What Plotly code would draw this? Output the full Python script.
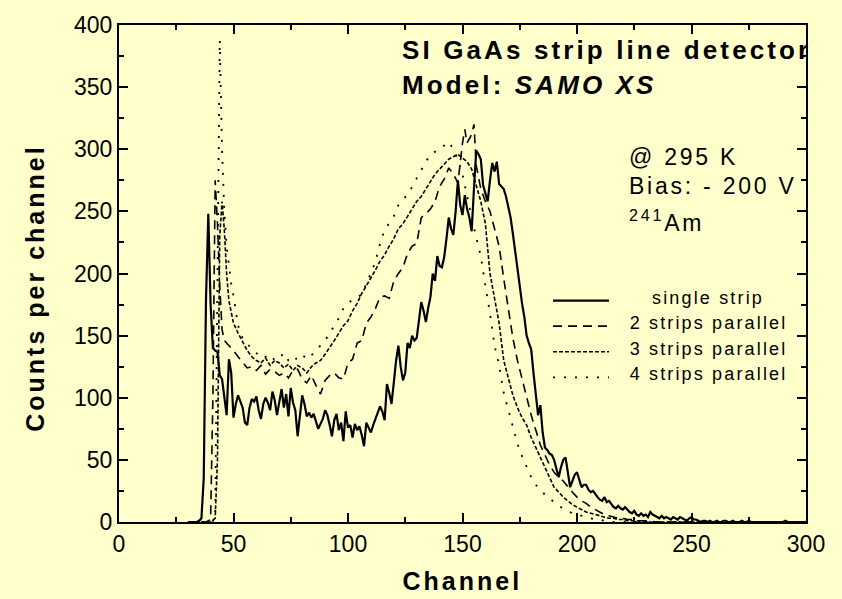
import plotly.graph_objects as go

# ---------------- data ----------------
single_ch = list(range(30, 301))
single_counts = [
    0, 0, 0, 0, 0, 1, 3, 35, 180, 248,            # 30-39
    175, 140, 138, 137, 118, 115, 100, 86, 131, 120,  # 40-49
    84, 95, 102, 97, 92, 80, 78, 92, 99, 97,      # 50-59
    101, 90, 83, 95, 100, 96, 90, 105, 98, 86,    # 60-69
    95, 107, 92, 103, 85, 108, 96, 90, 69, 88,    # 70-79
    102, 95, 85, 88, 84, 87, 80, 75, 79, 83,      # 80-89
    90, 86, 78, 69, 82, 87, 74, 80, 65, 89,       # 90-99
    76, 78, 68, 79, 74, 77, 70, 61, 80, 76,       # 100-109
    72, 78, 84, 88, 93, 89, 82, 111, 104, 95,     # 110-119
    112, 130, 142, 125, 114, 120, 144, 140, 150, 146,  # 120-129
    148, 165, 177, 170, 161, 172, 181, 200, 194, 214,  # 130-139
    206, 205, 213, 228, 245, 236, 231, 250, 275, 255,  # 140-149
    247, 263, 252, 245, 234, 268, 299, 296, 292, 271,  # 150-159
    265, 258, 275, 289, 282, 290, 272, 270, 268, 262,  # 160-169
    254, 245, 232, 218, 200, 188, 176, 165, 150, 144,  # 170-179
    139, 120, 100, 86, 94, 72, 60, 58, 55, 54,    # 180-189
    50, 42, 36, 44, 50, 52, 40, 28, 33, 38,       # 190-199
    40, 34, 28, 30, 30, 26, 24, 25, 22, 20,       # 200-209
    18, 17, 20, 16, 17, 14, 12, 11, 13, 11,       # 210-219
    10, 12, 10, 8, 7, 9, 6, 5, 7, 5,              # 220-229
    6, 4, 8, 6, 5, 4, 3, 5, 3, 4,                 # 230-239
    3, 2, 4, 3, 2, 4, 3, 2, 1, 3,                 # 240-249
    4, 2, 2, 1, 0, 1, 1, 0, 1, 0,                 # 250-259
    0, 1, 0, 0, 1, 1, 0, 0, 1, 0,                 # 260-269
    0, 0, 1, 0, 0, 1, 0, 0, 0, 0,                 # 270-279
    0, 0, 0, 0, 0, 0, 0, 0, 0, 0,                 # 280-289
    0, 1, 0, 0, 0, 0, 0, 0, 0, 0, 0,              # 290-300
]

two_ch = [36, 38, 40, 41, 42, 43, 44, 45, 46, 48, 50, 52, 54, 56, 58, 60, 62, 64, 66, 68,
          70, 72, 74, 76, 78, 80, 82, 84, 86, 88, 90, 92, 94, 96, 98, 100, 102, 104, 106, 108,
          110, 112, 114, 116, 118, 120, 122, 124, 126, 128, 130, 132, 134, 136, 138, 140, 142, 144, 146, 148,
          150, 151, 152, 154, 155, 156, 158, 160, 162, 164, 166, 168, 170, 172, 174, 176, 178, 180, 182, 184,
          186, 188, 190, 192, 194, 196, 198, 200, 202, 204, 206, 208, 210, 212, 214, 216, 218, 220, 222, 224,
          226, 228, 230, 235, 240, 250, 260]
two_counts = [0, 0, 2, 100, 275, 240, 190, 155, 146, 142, 138, 133, 128, 124, 125, 122, 126, 119, 123, 121,
              118, 120, 116, 122, 123, 115, 112, 118, 110, 103, 114, 118, 120, 116, 115, 128, 131, 144, 146, 160,
              165, 172, 181, 182, 180, 194, 200, 205, 216, 222, 224, 245, 248, 252, 258, 270, 276, 285, 280, 273,
              305, 316, 305, 312, 320, 287, 268, 258, 250, 236, 222, 196, 170, 148, 130, 115, 100, 86, 74, 62,
              54, 46, 40, 36, 33, 28, 24, 20, 17, 15, 12, 10, 8, 6, 5, 4, 3, 3, 2, 2,
              1, 1, 1, 0, 0, 0, 0]

three_ch = [36, 40, 42, 43, 44, 45, 46, 47, 48, 50, 52, 54, 56, 58, 60, 62, 64, 66, 68, 70,
            72, 74, 76, 78, 80, 82, 84, 86, 88, 90, 92, 94, 96, 98, 100, 102, 104, 106, 108, 110,
            112, 114, 116, 118, 120, 122, 124, 126, 128, 130, 132, 134, 136, 138, 140, 142, 144, 146, 148, 150,
            152, 154, 156, 158, 160, 162, 164, 166, 168, 170, 172, 174, 176, 178, 180, 182, 184, 186, 188, 190,
            192, 194, 196, 198, 200, 202, 204, 206, 208, 210, 212, 214, 216, 218, 220, 222, 226, 230, 240, 260]
three_counts = [0, 0, 3, 50, 230, 258, 235, 200, 178, 160, 152, 145, 138, 133, 130, 128, 132, 126, 130, 128,
                124, 127, 122, 126, 124, 120, 125, 128, 130, 135, 140, 146, 152, 158, 162, 170, 176, 184, 190, 196,
                203, 210, 215, 222, 228, 236, 240, 246, 252, 258, 262, 268, 274, 280, 284, 288, 292, 294, 296, 293,
                290, 284, 272, 258, 240, 200, 180, 160, 130, 115, 102, 92, 84, 78, 68, 60, 52, 44, 36, 28,
                24, 20, 17, 14, 12, 10, 8, 7, 6, 5, 4, 3, 3, 2, 2, 1, 1, 0, 0, 0]

four_ch = [36, 40, 42, 43, 44, 45, 46, 47, 48, 49, 50, 52, 54, 56, 58, 60, 62, 64, 66, 68,
           70, 72, 74, 76, 78, 80, 82, 84, 86, 88, 90, 92, 94, 96, 98, 100, 102, 104, 106, 108,
           110, 112, 114, 116, 118, 120, 122, 124, 126, 128, 130, 132, 134, 136, 138, 140, 142, 144, 146, 148,
           150, 152, 154, 156, 158, 160, 162, 164, 166, 168, 170, 172, 174, 176, 178, 180, 182, 184, 186, 188,
           190, 192, 194, 196, 198, 200, 202, 204, 206, 208, 210, 212, 216, 230, 260]
four_counts = [0, 0, 2, 200, 388, 300, 250, 222, 205, 192, 182, 158, 148, 143, 140, 136, 132, 133, 135, 130,
               132, 136, 130, 128, 133, 131, 136, 134, 138, 142, 146, 152, 158, 164, 172, 176, 179, 181, 183, 192,
               200, 210, 224, 235, 240, 246, 255, 260, 263, 270, 276, 284, 290, 296, 298, 300, 303, 306, 300, 292,
               280, 262, 245, 229, 214, 190, 168, 142, 126, 104, 90, 76, 63, 53, 44, 36, 30, 26, 22, 19,
               16, 13, 11, 9, 7, 6, 5, 4, 3, 2, 2, 1, 0, 0, 0]

x_ticks = [0, 50, 100, 150, 200, 250, 300]
y_ticks = [0, 50, 100, 150, 200, 250, 300, 350, 400]
legend_names = ["single strip", "2 strips parallel", "3 strips parallel", "4 strips parallel"]
dash_styles = ["solid", "9px,6px", "4px,2px", "2px,9px"]
line_widths = [2.2, 1.6, 1.6, 1.8]

BG = "#FFFFCC"
FONT = "Liberation Sans, Arial, sans-serif"

# ---------------- figure ----------------
fig = go.Figure()
series = [(single_ch, single_counts), (two_ch, two_counts), (three_ch, three_counts), (four_ch, four_counts)]
for (xs, ys), name, dash, w in zip(series, legend_names, dash_styles, line_widths):
    fig.add_trace(go.Scatter(x=xs, y=ys, mode="lines", name=name, showlegend=False,
                             line=dict(color="black", width=w, dash=dash)))

axis_common = dict(
    showgrid=False, zeroline=False, showline=True, linecolor="black", linewidth=2,
    mirror="allticks", ticks="inside", ticklen=9, tickwidth=1.8, tickcolor="black",
    tickfont=dict(family=FONT, size=23, color="black"),
)
fig.update_xaxes(range=[0, 300], tickvals=x_ticks, ticktext=[str(v) for v in x_ticks],
                 minor=dict(ticks="inside", ticklen=5, tickwidth=1.5, tickcolor="black", dtick=25, tick0=0),
                 **axis_common)
fig.update_yaxes(range=[0, 400], tickvals=y_ticks, ticktext=[str(v) for v in y_ticks],
                 minor=dict(ticks="inside", ticklen=5, tickwidth=1.5, tickcolor="black", dtick=25, tick0=0),
                 **axis_common)

# plot area in pixels: x 119..806, y 17..522
L, R, T, B = 119, 806, 17, 522
W, H = R - L, B - T
def px(xp):
    return (xp - L) / W
def py(yp):
    return (B - yp) / H

annos = [
    dict(text="<b>SI GaAs strip line detector</b>", x=px(400), y=py(42), size=26),
    dict(text="<b>Model: <i>SAMO XS</i></b>", x=px(400), y=py(78), size=26),
    dict(text="@ 295 K", x=px(627), y=py(151), size=23),
    dict(text="Bias: - 200 V", x=px(627), y=py(181), size=23),
    dict(text="<sup>241</sup>Am", x=px(627), y=py(216), size=23),
]
for a in annos:
    fig.add_annotation(text=a["text"], x=a["x"], y=a["y"], xref="paper", yref="paper",
                       xanchor="left", yanchor="middle", align="left", showarrow=False,
                       font=dict(family=FONT, size=a["size"], color="black"))

# axis titles
fig.add_annotation(text="<b>Channel</b>", x=px(462.5), y=py(582), xref="paper", yref="paper",
                   xanchor="center", yanchor="middle", showarrow=False,
                   font=dict(family=FONT, size=25, color="black"))
fig.add_annotation(text="<b>Counts per channel</b>", x=px(35), y=py(285), xref="paper", yref="paper",
                   xanchor="center", yanchor="middle", showarrow=False, textangle=-90,
                   font=dict(family=FONT, size=25, color="black"))

# legend (drawn by hand: sample line + centred label)
leg_y = [297, 323, 349, 375]
for name, dash, w, yy in zip(legend_names, dash_styles, line_widths, leg_y):
    fig.add_shape(type="line", xref="paper", yref="paper", x0=px(553), x1=px(609), y0=py(yy), y1=py(yy),
                  line=dict(color="black", width=w, dash=dash))
    fig.add_annotation(text=name, x=px(708), y=py(yy - 3), xref="paper", yref="paper",
                       xanchor="center", yanchor="middle", align="center", showarrow=False,
                       font=dict(family=FONT, size=18, color="black"))

fig.update_layout(
    width=842, height=599, autosize=False,
    margin=dict(l=L, r=842 - R, t=T, b=599 - B),
    paper_bgcolor=BG, plot_bgcolor=BG,
    font=dict(family=FONT, color="black"),
)

post = """
var gd = document.getElementById('{plot_id}');
function spaceText(){
  gd.querySelectorAll('text.annotation-text').forEach(function(t){ t.style.letterSpacing = '0.12em'; });
}
spaceText();
gd.on('plotly_afterplot', spaceText);
"""
fig.write_html("out.html", post_script=post)
